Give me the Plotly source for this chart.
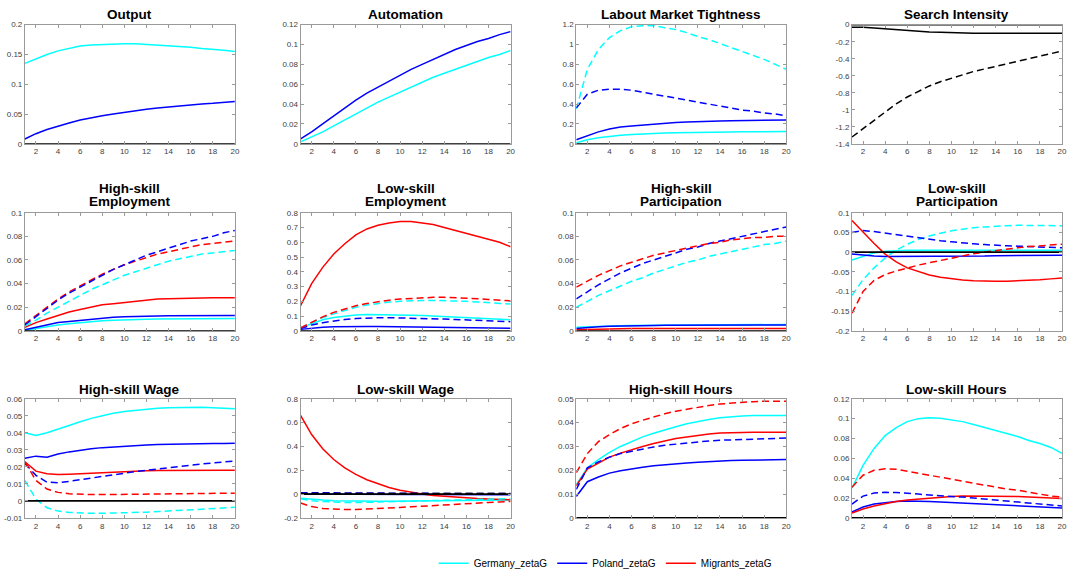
import plotly.graph_objects as go

# ---------------- data ----------------
periods = list(range(1, 21))
x_ticks = [2, 4, 6, 8, 10, 12, 14, 16, 18, 20]

series_names = ["Germany_zetaG", "Poland_zetaG", "Migrants_zetaG"]

# Output
output_de = [0.135, 0.143, 0.150, 0.156, 0.160, 0.164, 0.166, 0.167, 0.168, 0.168,
             0.168, 0.167, 0.166, 0.165, 0.163, 0.162, 0.160, 0.159, 0.157, 0.155]
output_pl = [0.008, 0.017, 0.024, 0.030, 0.035, 0.040, 0.044, 0.047, 0.050, 0.053,
             0.055, 0.058, 0.060, 0.062, 0.063, 0.065, 0.067, 0.068, 0.070, 0.071]

# Automation
autom_pl = [0.005, 0.012, 0.020, 0.028, 0.036, 0.044, 0.051, 0.057, 0.063, 0.069,
            0.075, 0.080, 0.085, 0.090, 0.095, 0.099, 0.103, 0.106, 0.110, 0.113]
autom_de = [0.002, 0.007, 0.012, 0.018, 0.024, 0.030, 0.036, 0.042, 0.047, 0.052,
            0.057, 0.062, 0.067, 0.071, 0.075, 0.079, 0.083, 0.087, 0.090, 0.094]

# Labour market tightness
tight_de_d = [0.35, 0.75, 0.95, 1.07, 1.14, 1.18, 1.19, 1.19, 1.17, 1.15,
              1.12, 1.08, 1.05, 1.01, 0.97, 0.93, 0.89, 0.85, 0.80, 0.75]
tight_pl_d = [0.36, 0.50, 0.54, 0.55, 0.55, 0.54, 0.52, 0.50, 0.48, 0.46,
              0.44, 0.42, 0.40, 0.38, 0.36, 0.34, 0.33, 0.31, 0.30, 0.28]
tight_pl = [0.04, 0.08, 0.12, 0.15, 0.17, 0.18, 0.19, 0.20, 0.21, 0.215,
            0.22, 0.225, 0.228, 0.23, 0.232, 0.234, 0.236, 0.237, 0.238, 0.24]
tight_de = [0.01, 0.04, 0.06, 0.075, 0.085, 0.093, 0.10, 0.105, 0.108, 0.111,
            0.114, 0.116, 0.118, 0.119, 0.12, 0.121, 0.122, 0.123, 0.123, 0.124]

# Search intensity
search_s = [-0.03, -0.03, -0.04, -0.05, -0.06, -0.07, -0.08, -0.085, -0.09, -0.095,
            -0.097, -0.10, -0.10, -0.10, -0.10, -0.10, -0.10, -0.10, -0.10, -0.10]
search_d = [-1.32, -1.22, -1.12, -1.02, -0.93, -0.85, -0.78, -0.72, -0.67, -0.63,
            -0.59, -0.55, -0.52, -0.49, -0.46, -0.43, -0.40, -0.37, -0.34, -0.31]

# High-skill employment
hemp_pl_d = [0.005, 0.012, 0.019, 0.026, 0.032, 0.037, 0.042, 0.047, 0.052, 0.056,
             0.060, 0.064, 0.067, 0.070, 0.073, 0.076, 0.078, 0.080, 0.083, 0.085]
hemp_mi_d = [0.006, 0.013, 0.020, 0.027, 0.033, 0.038, 0.043, 0.048, 0.052, 0.056,
             0.059, 0.062, 0.065, 0.067, 0.069, 0.071, 0.073, 0.074, 0.075, 0.076]
hemp_de_d = [0.004, 0.009, 0.015, 0.020, 0.025, 0.030, 0.035, 0.039, 0.043, 0.047,
             0.050, 0.053, 0.056, 0.059, 0.061, 0.063, 0.065, 0.066, 0.067, 0.068]
hemp_mi = [0.003, 0.007, 0.010, 0.013, 0.016, 0.018, 0.020, 0.022, 0.023, 0.024,
           0.025, 0.026, 0.027, 0.0272, 0.0275, 0.0278, 0.028, 0.028, 0.028, 0.028]
hemp_pl = [0.001, 0.003, 0.005, 0.007, 0.008, 0.009, 0.010, 0.011, 0.0115, 0.012,
           0.012, 0.0125, 0.0125, 0.0127, 0.0128, 0.0128, 0.013, 0.013, 0.013, 0.013]
hemp_de = [0.0005, 0.002, 0.004, 0.005, 0.006, 0.007, 0.008, 0.0085, 0.009, 0.0095,
           0.0097, 0.0099, 0.010, 0.0101, 0.0102, 0.0103, 0.0104, 0.0104, 0.0105, 0.0105]

# Low-skill employment
lemp_mi = [0.17, 0.32, 0.43, 0.52, 0.59, 0.65, 0.69, 0.715, 0.73, 0.74,
           0.74, 0.73, 0.72, 0.70, 0.68, 0.66, 0.64, 0.62, 0.60, 0.57]
lemp_mi_d = [0.02, 0.06, 0.095, 0.125, 0.15, 0.17, 0.185, 0.198, 0.208, 0.215,
             0.22, 0.225, 0.227, 0.227, 0.225, 0.222, 0.218, 0.213, 0.208, 0.203]
lemp_de_d = [0.02, 0.055, 0.09, 0.115, 0.14, 0.16, 0.175, 0.187, 0.195, 0.20,
             0.204, 0.206, 0.206, 0.205, 0.203, 0.20, 0.196, 0.192, 0.187, 0.182]
lemp_de = [0.02, 0.05, 0.075, 0.09, 0.10, 0.107, 0.11, 0.11, 0.11, 0.108,
           0.106, 0.104, 0.101, 0.098, 0.095, 0.091, 0.087, 0.083, 0.079, 0.075]
lemp_pl_d = [0.015, 0.04, 0.055, 0.068, 0.077, 0.083, 0.087, 0.089, 0.089, 0.088,
             0.087, 0.085, 0.083, 0.080, 0.077, 0.074, 0.071, 0.068, 0.065, 0.062]
lemp_pl = [0.01, 0.02, 0.025, 0.028, 0.03, 0.03, 0.03, 0.029, 0.028, 0.027,
           0.026, 0.025, 0.024, 0.023, 0.022, 0.021, 0.02, 0.019, 0.018, 0.017]

# High-skill participation
hpar_mi_d = [0.037, 0.042, 0.047, 0.051, 0.055, 0.058, 0.061, 0.064, 0.066, 0.068,
             0.070, 0.072, 0.074, 0.075, 0.077, 0.078, 0.079, 0.079, 0.080, 0.080]
hpar_pl_d = [0.027, 0.033, 0.039, 0.044, 0.049, 0.053, 0.057, 0.060, 0.063, 0.066,
             0.069, 0.071, 0.074, 0.076, 0.078, 0.080, 0.082, 0.084, 0.086, 0.088]
hpar_de_d = [0.020, 0.025, 0.030, 0.034, 0.038, 0.042, 0.045, 0.049, 0.052, 0.055,
             0.058, 0.060, 0.063, 0.065, 0.067, 0.069, 0.071, 0.073, 0.074, 0.076]
hpar_pl = [0.002, 0.003, 0.0035, 0.004, 0.004, 0.0043, 0.0045, 0.0046, 0.0047, 0.0048,
           0.0048, 0.0049, 0.0049, 0.005, 0.005, 0.005, 0.005, 0.005, 0.005, 0.005]
hpar_de = [0.003, 0.0035, 0.004, 0.0042, 0.0044, 0.0046, 0.0047, 0.0048, 0.0049, 0.005,
           0.005, 0.0051, 0.0051, 0.0052, 0.0052, 0.0053, 0.0053, 0.0053, 0.0054, 0.0054]
hpar_mi = [0.001, 0.0013, 0.0015, 0.0017, 0.0018, 0.0019, 0.002, 0.002, 0.002, 0.002,
           0.002, 0.002, 0.002, 0.002, 0.002, 0.002, 0.002, 0.002, 0.002, 0.002]

# Low-skill participation
lpar_mi = [0.08, 0.05, 0.022, -0.005, -0.025, -0.04, -0.05, -0.058, -0.064, -0.068,
           -0.071, -0.073, -0.074, -0.074, -0.074, -0.073, -0.072, -0.070, -0.068, -0.066]
lpar_pl_d = [0.05, 0.055, 0.052, 0.048, 0.044, 0.040, 0.036, 0.032, 0.029, 0.026,
             0.023, 0.021, 0.019, 0.017, 0.016, 0.015, 0.014, 0.013, 0.012, 0.011]
lpar_de_d = [-0.11, -0.07, -0.04, -0.015, 0.005, 0.02, 0.032, 0.041, 0.048, 0.054,
             0.058, 0.062, 0.064, 0.066, 0.067, 0.068, 0.068, 0.068, 0.068, 0.067]
lpar_mi_d = [-0.155, -0.10, -0.072, -0.057, -0.048, -0.040, -0.033, -0.027, -0.021, -0.015,
             -0.009, -0.004, 0.0, 0.004, 0.008, 0.011, 0.014, 0.016, 0.018, 0.020]
lpar_de = [-0.02, -0.01, -0.002, 0.002, 0.004, 0.005, 0.005, 0.005, 0.005, 0.005,
           0.005, 0.005, 0.005, 0.005, 0.005, 0.005, 0.005, 0.005, 0.005, 0.005]
lpar_pl = [-0.005, -0.008, -0.010, -0.011, -0.011, -0.011, -0.011, -0.011, -0.011, -0.010,
           -0.010, -0.010, -0.010, -0.009, -0.009, -0.009, -0.009, -0.008, -0.008, -0.008]

# High-skill wage
hwage_de = [0.040, 0.0385, 0.040, 0.042, 0.0443, 0.0465, 0.0485, 0.050, 0.0515, 0.0525,
            0.0533, 0.054, 0.0545, 0.0548, 0.055, 0.055, 0.055, 0.0548, 0.0545, 0.0542]
hwage_pl = [0.025, 0.0263, 0.0257, 0.0275, 0.0288, 0.0298, 0.0306, 0.0313, 0.0318, 0.0322,
            0.0326, 0.0329, 0.0331, 0.0333, 0.0335, 0.0336, 0.0337, 0.0338, 0.0338, 0.0339]
hwage_mi = [0.023, 0.0175, 0.016, 0.0155, 0.0157, 0.016, 0.0165, 0.0168, 0.017, 0.0173,
            0.0175, 0.0177, 0.0178, 0.0179, 0.018, 0.018, 0.018, 0.018, 0.018, 0.018]
hwage_pl_d = [0.022, 0.015, 0.011, 0.0107, 0.0115, 0.0125, 0.0135, 0.0145, 0.0155, 0.0163,
              0.0172, 0.018, 0.0188, 0.0195, 0.0202, 0.021, 0.0217, 0.0223, 0.0229, 0.0235]
hwage_mi_d = [0.023, 0.012, 0.007, 0.005, 0.0042, 0.0038, 0.0037, 0.0037, 0.0038, 0.004,
              0.0041, 0.0042, 0.0043, 0.0044, 0.0044, 0.0045, 0.0045, 0.0045, 0.0045, 0.0045]
hwage_de_d = [0.012, 0.001, -0.004, -0.006, -0.0068, -0.0072, -0.0073, -0.0073, -0.0072, -0.007,
              -0.0068, -0.0066, -0.0063, -0.006, -0.0057, -0.0053, -0.005, -0.0046, -0.0042, -0.0038]

# Low-skill wage
lwage_mi = [0.66, 0.50, 0.38, 0.29, 0.22, 0.165, 0.12, 0.085, 0.055, 0.032,
            0.014, 0.0, -0.012, -0.02, -0.027, -0.033, -0.038, -0.042, -0.045, -0.048]
lwage_mi_d = [-0.075, -0.105, -0.12, -0.127, -0.13, -0.129, -0.126, -0.122, -0.117, -0.112,
              -0.107, -0.101, -0.096, -0.09, -0.085, -0.08, -0.075, -0.07, -0.066, -0.062]
lwage_de_d = [-0.04, -0.055, -0.063, -0.068, -0.07, -0.071, -0.07, -0.068, -0.066, -0.063,
              -0.06, -0.057, -0.054, -0.051, -0.048, -0.046, -0.044, -0.042, -0.04, -0.038]
lwage_de = [-0.035, -0.045, -0.05, -0.055, -0.058, -0.06, -0.061, -0.061, -0.06, -0.059,
            -0.058, -0.057, -0.056, -0.055, -0.054, -0.053, -0.052, -0.051, -0.05, -0.05]
lwage_pl_d = [0.012, 0.011, 0.010, 0.010, 0.009, 0.009, 0.008, 0.008, 0.008, 0.007,
              0.007, 0.007, 0.006, 0.006, 0.006, 0.006, 0.005, 0.005, 0.005, 0.005]
lwage_pl = [0.0, -0.001, -0.002, -0.002, -0.003, -0.003, -0.003, -0.004, -0.004, -0.004,
            -0.004, -0.004, -0.005, -0.005, -0.005, -0.005, -0.005, -0.005, -0.005, -0.005]
lwage_bk_d = [0.005, 0.005, 0.005, 0.005, 0.005, 0.005, 0.005, 0.005, 0.005, 0.005,
              0.004, 0.004, 0.004, 0.004, 0.004, 0.004, 0.004, 0.004, 0.004, 0.004]

# High-skill hours
hhrs_mi_d = [0.019, 0.027, 0.032, 0.035, 0.0375, 0.0395, 0.041, 0.0425, 0.0437, 0.0448,
             0.0457, 0.0465, 0.0472, 0.0478, 0.0482, 0.0486, 0.0488, 0.049, 0.049, 0.049]
hhrs_de = [0.014, 0.021, 0.0245, 0.0275, 0.030, 0.032, 0.034, 0.0355, 0.037, 0.0383,
           0.0395, 0.0405, 0.0413, 0.042, 0.0425, 0.0428, 0.043, 0.043, 0.043, 0.043]
hhrs_mi = [0.0135, 0.0205, 0.023, 0.0255, 0.0272, 0.0287, 0.030, 0.0312, 0.0323, 0.0333,
           0.034, 0.0347, 0.0352, 0.0356, 0.0358, 0.036, 0.036, 0.036, 0.036, 0.036]
hhrs_pl_d = [0.012, 0.021, 0.0235, 0.0255, 0.027, 0.028, 0.029, 0.0298, 0.0305, 0.031,
             0.0315, 0.032, 0.0323, 0.0326, 0.0328, 0.033, 0.0332, 0.0333, 0.0334, 0.0335]
hhrs_pl = [0.009, 0.0152, 0.0172, 0.0188, 0.0198, 0.0207, 0.0213, 0.0219, 0.0224, 0.0228,
           0.0231, 0.0234, 0.0237, 0.0239, 0.0241, 0.0242, 0.0243, 0.0244, 0.0245, 0.0245]

# Low-skill hours
lhrs_de = [0.03, 0.053, 0.07, 0.083, 0.091, 0.097, 0.100, 0.101, 0.1005, 0.099,
           0.097, 0.094, 0.091, 0.088, 0.085, 0.082, 0.078, 0.075, 0.071, 0.065]
lhrs_mi_d = [0.031, 0.043, 0.048, 0.0495, 0.049, 0.047, 0.045, 0.043, 0.041, 0.039,
             0.037, 0.035, 0.033, 0.031, 0.029, 0.028, 0.026, 0.024, 0.022, 0.021]
lhrs_pl_d = [0.014, 0.022, 0.025, 0.0258, 0.0255, 0.025, 0.024, 0.023, 0.022, 0.0215,
             0.021, 0.020, 0.019, 0.018, 0.017, 0.016, 0.015, 0.014, 0.013, 0.012]
lhrs_mi = [0.005, 0.009, 0.012, 0.0145, 0.0165, 0.018, 0.019, 0.020, 0.021, 0.0215,
           0.022, 0.022, 0.022, 0.022, 0.022, 0.0215, 0.021, 0.0205, 0.020, 0.0195]
lhrs_pl = [0.006, 0.011, 0.014, 0.0155, 0.0165, 0.017, 0.017, 0.0165, 0.016, 0.0155,
           0.015, 0.0145, 0.014, 0.013, 0.0125, 0.012, 0.0115, 0.011, 0.0105, 0.010]

zero_line = [0.0] * 20

# y axis ticks per panel
yt_output = [0, 0.05, 0.1, 0.15, 0.2]
yl_output = ["0", "0.05", "0.1", "0.15", "0.2"]
yt_autom = [0, 0.02, 0.04, 0.06, 0.08, 0.1, 0.12]
yl_autom = ["0", "0.02", "0.04", "0.06", "0.08", "0.1", "0.12"]
yt_tight = [0, 0.2, 0.4, 0.6, 0.8, 1, 1.2]
yl_tight = ["0", "0.2", "0.4", "0.6", "0.8", "1", "1.2"]
yt_search = [-1.4, -1.2, -1, -0.8, -0.6, -0.4, -0.2, 0]
yl_search = ["-1.4", "-1.2", "-1", "-0.8", "-0.6", "-0.4", "-0.2", "0"]
yt_p1 = [0, 0.02, 0.04, 0.06, 0.08, 0.1]
yl_p1 = ["0", "0.02", "0.04", "0.06", "0.08", "0.1"]
yt_lemp = [0, 0.1, 0.2, 0.3, 0.4, 0.5, 0.6, 0.7, 0.8]
yl_lemp = ["0", "0.1", "0.2", "0.3", "0.4", "0.5", "0.6", "0.7", "0.8"]
yt_lpar = [-0.2, -0.15, -0.1, -0.05, 0, 0.05, 0.1]
yl_lpar = ["-0.2", "-0.15", "-0.1", "-0.05", "0", "0.05", "0.1"]
yt_hwage = [-0.01, 0, 0.01, 0.02, 0.03, 0.04, 0.05, 0.06]
yl_hwage = ["-0.01", "0", "0.01", "0.02", "0.03", "0.04", "0.05", "0.06"]
yt_lwage = [-0.2, 0, 0.2, 0.4, 0.6, 0.8]
yl_lwage = ["-0.2", "0", "0.2", "0.4", "0.6", "0.8"]
yt_hhrs = [0, 0.01, 0.02, 0.03, 0.04, 0.05]
yl_hhrs = ["0", "0.01", "0.02", "0.03", "0.04", "0.05"]
yt_lhrs = [0, 0.02, 0.04, 0.06, 0.08, 0.1, 0.12]
yl_lhrs = ["0", "0.02", "0.04", "0.06", "0.08", "0.1", "0.12"]

DE, PL, MI, BK = "#00FFFF", "#0000FF", "#FF0000", "#000000"

panels = [
    (["Output"], [0, 0.2], yt_output, yl_output,
     [(output_de, DE, "solid"), (output_pl, PL, "solid")]),
    (["Automation"], [0, 0.12], yt_autom, yl_autom,
     [(autom_pl, PL, "solid"), (autom_de, DE, "solid")]),
    (["Labout Market Tightness"], [0, 1.2], yt_tight, yl_tight,
     [(tight_de_d, DE, "dash"), (tight_pl_d, PL, "dash"), (tight_pl, PL, "solid"), (tight_de, DE, "solid")]),
    (["Search Intensity"], [-1.4, 0], yt_search, yl_search,
     [(search_s, BK, "solid"), (search_d, BK, "dash")]),
    (["High-skill", "Employment"], [0, 0.1], yt_p1, yl_p1,
     [(hemp_de, DE, "solid"), (hemp_pl, PL, "solid"), (hemp_mi, MI, "solid"),
      (hemp_de_d, DE, "dash"), (hemp_mi_d, MI, "dash"), (hemp_pl_d, PL, "dash")]),
    (["Low-skill", "Employment"], [0, 0.8], yt_lemp, yl_lemp,
     [(lemp_de, DE, "solid"), (lemp_pl, PL, "solid"), (lemp_mi, MI, "solid"),
      (lemp_de_d, DE, "dash"), (lemp_pl_d, PL, "dash"), (lemp_mi_d, MI, "dash")]),
    (["High-skill", "Participation"], [0, 0.1], yt_p1, yl_p1,
     [(hpar_de, DE, "solid"), (hpar_pl, PL, "solid"), (hpar_mi, MI, "solid"),
      (hpar_de_d, DE, "dash"), (hpar_pl_d, PL, "dash"), (hpar_mi_d, MI, "dash")]),
    (["Low-skill", "Participation"], [-0.2, 0.1], yt_lpar, yl_lpar,
     [(lpar_de, DE, "solid"), (lpar_pl, PL, "solid"), (lpar_mi, MI, "solid"),
      (lpar_de_d, DE, "dash"), (lpar_pl_d, PL, "dash"), (lpar_mi_d, MI, "dash")]),
    (["High-skill Wage"], [-0.01, 0.06], yt_hwage, yl_hwage,
     [(hwage_de, DE, "solid"), (hwage_pl, PL, "solid"), (hwage_mi, MI, "solid"),
      (hwage_de_d, DE, "dash"), (hwage_pl_d, PL, "dash"), (hwage_mi_d, MI, "dash")]),
    (["Low-skill Wage"], [-0.2, 0.8], yt_lwage, yl_lwage,
     [(lwage_de, DE, "solid"), (lwage_pl, PL, "solid"), (lwage_mi, MI, "solid"),
      (lwage_de_d, DE, "dash"), (lwage_pl_d, PL, "dash"), (lwage_mi_d, MI, "dash"),
      (lwage_bk_d, BK, "dash")]),
    (["High-skill Hours"], [0, 0.05], yt_hhrs, yl_hhrs,
     [(hhrs_de, DE, "solid"), (hhrs_pl, PL, "solid"), (hhrs_mi, MI, "solid"),
      (hhrs_pl_d, PL, "dash"), (hhrs_mi_d, MI, "dash")]),
    (["Low-skill Hours"], [0, 0.12], yt_lhrs, yl_lhrs,
     [(lhrs_de, DE, "solid"), (lhrs_pl, PL, "solid"), (lhrs_mi, MI, "solid"),
      (lhrs_pl_d, PL, "dash"), (lhrs_mi_d, MI, "dash")]),
]

# ---------------- layout geometry (pixels) ----------------
W, H = 1067, 581
col_left = [25, 302, 579, 856]
col_w = [211, 211, 211, 211]
row_top = [21, 212, 401]
row_bot = [142, 332, 522]
title_lines_y = {1: [[11]], 2: [[187, 201]]}
title_y_single = [11, 194, 392]
title_y_double = [187, 201]

fig = go.Figure()
legend_done = set()
legend_rank = {DE: 1, PL: 2, MI: 3}
legend_name = {DE: series_names[0], PL: series_names[1], MI: series_names[2]}

for i, (title, yr, tv, tt, lines) in enumerate(panels):
    r, c = divmod(i, 4)
    ax = "" if i == 0 else str(i + 1)
    xa, ya = "x" + ax, "y" + ax
    x0 = col_left[c] / W
    x1 = min((col_left[c] + col_w[c]) / W, 1.0)
    y0 = 1 - row_bot[r] / H
    y1 = 1 - row_top[r] / H
    axis_common = dict(showline=True, linecolor="#9a9a9a", linewidth=1, mirror="ticks",
                       ticks="inside", ticklen=3, tickcolor="#9a9a9a", showgrid=False,
                       zeroline=False, tickfont=dict(family="Liberation Sans, Arial", size=8, color="#404040"))
    fig.update_layout(**{
        "xaxis" + ax: dict(domain=[x0, x1], range=[1, 20], tickvals=x_ticks,
                           anchor=ya, **axis_common),
        "yaxis" + ax: dict(domain=[y0, y1], range=yr, tickvals=tv, ticktext=tt,
                           anchor=xa, **axis_common),
    })
    for yv, col, dash in lines:
        show = (dash == "solid" and col in legend_rank and col not in legend_done)
        if show:
            legend_done.add(col)
        fig.add_trace(go.Scatter(
            x=periods, y=yv, mode="lines", xaxis=xa, yaxis=ya,
            line=dict(color=col, width=1.5, dash="solid" if dash == "solid" else "7px,4px"),
            showlegend=show, name=legend_name.get(col, ""),
            legendrank=legend_rank.get(col, 1000), hoverinfo="skip"))
    fig.add_trace(go.Scatter(x=periods, y=zero_line, mode="lines", xaxis=xa, yaxis=ya,
                             line=dict(color=BK, width=1.8), showlegend=False, hoverinfo="skip"))
    ys = [title_y_single[r]] if len(title) == 1 else title_y_double
    for txt, ty in zip(title, ys):
        fig.add_annotation(text="<b>" + txt + "</b>", xref="paper", yref="paper",
                           x=(col_left[c] + col_w[c] / 2) / W, y=1 - ty / H,
                           xanchor="center", yanchor="middle", showarrow=False,
                           font=dict(family="Liberation Sans, Arial", size=13.5, color="#000000"))

fig.update_layout(
    width=W, height=H, margin=dict(l=0, r=0, t=0, b=0),
    paper_bgcolor="white", plot_bgcolor="white",
    showlegend=True,
    legend=dict(orientation="h", x=608 / W, y=1 - 568 / H, xanchor="center", yanchor="middle",
                font=dict(family="Liberation Sans, Arial", size=10, color="#000000"),
                bgcolor="rgba(0,0,0,0)", itemwidth=30, tracegroupgap=0),
)

fig.write_html("out.html", config={"displayModeBar": False},
               post_script="document.body.style.margin='0';document.body.style.overflow='hidden';")
